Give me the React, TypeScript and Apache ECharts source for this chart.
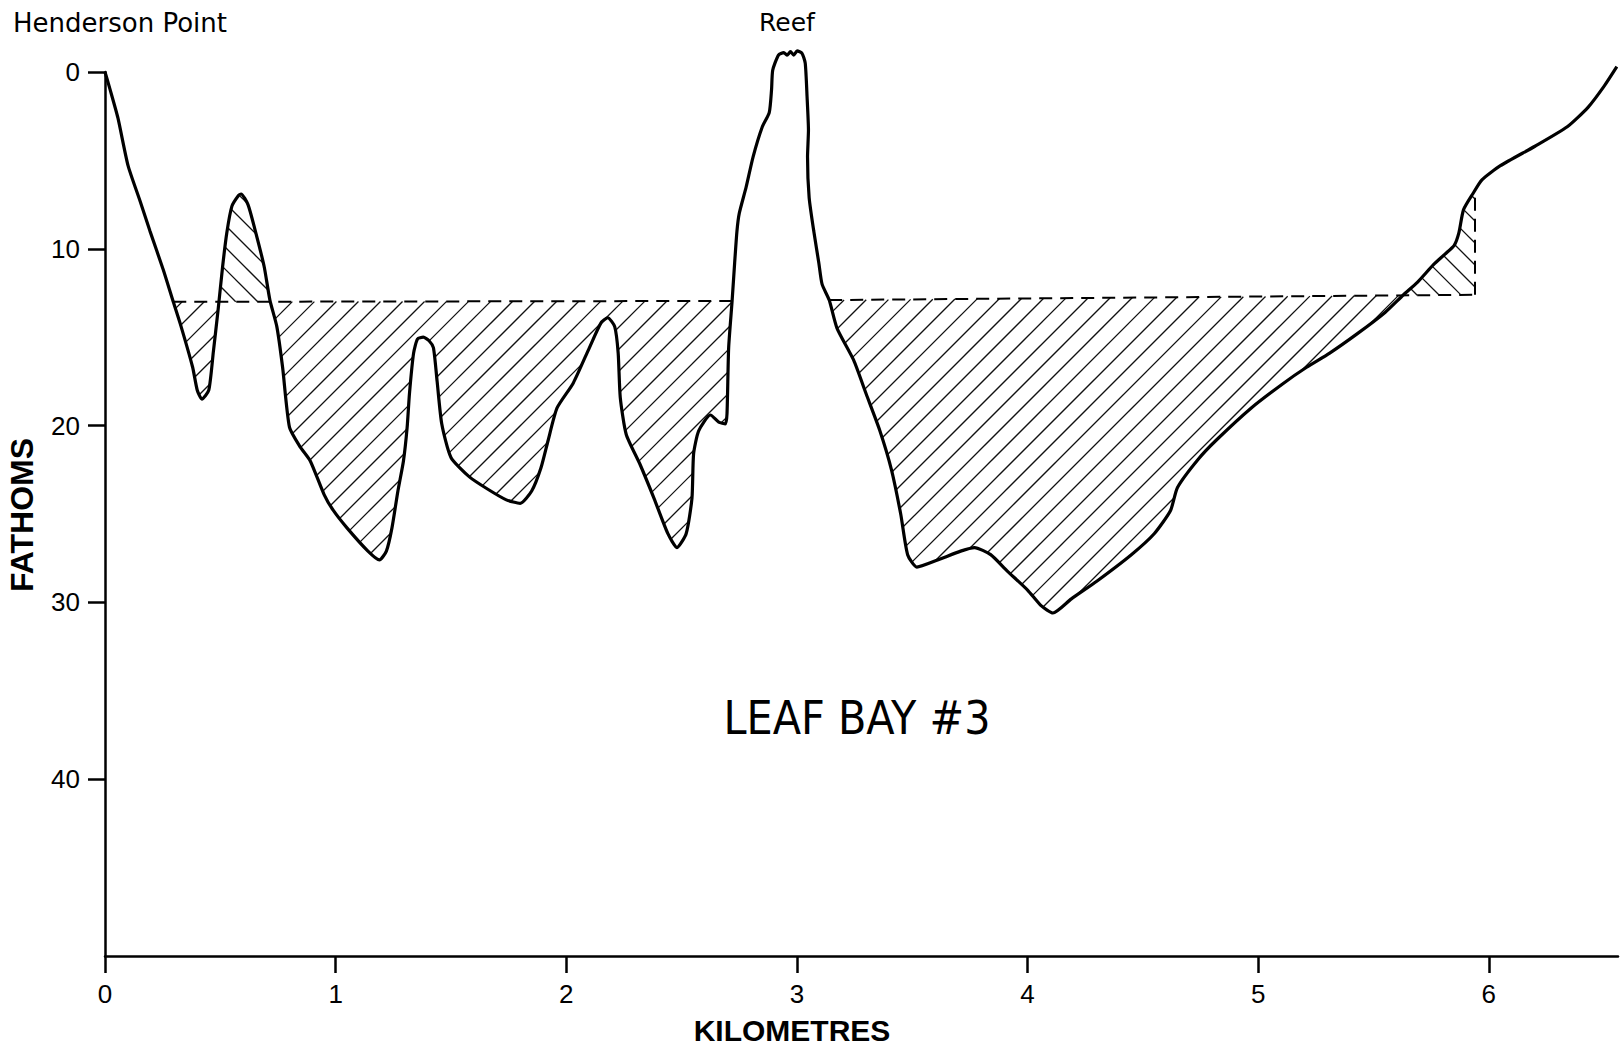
import React, { useEffect, useRef } from "react";
import * as echarts from "echarts";

// Sea-bed profile: [kilometres, fathoms]
const seabedProfile: [number, number][] = [
  [0.0, 0.0], [0.02, 0.9], [0.056, 2.6], [0.1, 5.3], [0.152, 7.3], [0.195, 9.0],
  [0.253, 11.2], [0.296, 13.0], [0.33, 14.4], [0.38, 16.7], [0.4, 18.0], [0.42, 18.5],
  [0.45, 18.0], [0.47, 15.8], [0.49, 13.5], [0.51, 11.0], [0.528, 9.1], [0.55, 7.6],
  [0.578, 7.0], [0.59, 6.9], [0.62, 7.5], [0.65, 8.9], [0.69, 11.0], [0.715, 12.9],
  [0.745, 14.4], [0.77, 16.7], [0.8, 20.1], [0.846, 21.2], [0.89, 22.0], [0.95, 23.9],
  [0.99, 24.8], [1.05, 25.8], [1.14, 27.1], [1.19, 27.6], [1.22, 27.1], [1.244, 25.8],
  [1.27, 23.7], [1.294, 22.0], [1.31, 20.1], [1.32, 18.2], [1.338, 15.9], [1.355, 15.1],
  [1.38, 15.0], [1.405, 15.2], [1.424, 15.6], [1.44, 17.5], [1.46, 19.9], [1.5, 21.8],
  [1.58, 22.9], [1.66, 23.6], [1.74, 24.2], [1.8, 24.4], [1.85, 23.7], [1.89, 22.4],
  [1.92, 20.9], [1.96, 19.0], [2.03, 17.6], [2.1, 15.6], [2.15, 14.2], [2.18, 13.9],
  [2.21, 14.4], [2.225, 15.9], [2.234, 18.4], [2.26, 20.5], [2.32, 22.2], [2.38, 24.1],
  [2.44, 26.1], [2.48, 26.9], [2.52, 26.1], [2.545, 24.1], [2.552, 21.6], [2.574, 20.3],
  [2.625, 19.4], [2.661, 19.8], [2.69, 19.9], [2.697, 19.3], [2.704, 15.6], [2.719, 12.95],
  [2.73, 10.8], [2.74, 9.0], [2.75, 8.0], [2.78, 6.5], [2.81, 4.8], [2.85, 3.1],
  [2.88, 2.3], [2.89, 1.0], [2.895, -0.1], [2.92, -0.96], [2.943, -1.1], [2.957, -0.95],
  [2.972, -1.15], [2.986, -0.96], [3.001, -1.19], [3.022, -1.06], [3.036, -0.5], [3.044, 1.4],
  [3.05, 3.3], [3.046, 4.8], [3.053, 7.1], [3.073, 9.0], [3.095, 10.8], [3.109, 12.0],
  [3.14, 12.9], [3.174, 14.5], [3.246, 16.3], [3.3, 18.2], [3.36, 20.3], [3.41, 22.5],
  [3.45, 25.0], [3.48, 27.3], [3.52, 28.0], [3.61, 27.6], [3.71, 27.1], [3.77, 26.9],
  [3.84, 27.3], [3.91, 28.2], [4.0, 29.3], [4.06, 30.2], [4.11, 30.6], [4.19, 29.8],
  [4.3, 28.8], [4.45, 27.3], [4.55, 26.1], [4.62, 24.8], [4.65, 23.5], [4.74, 21.9],
  [4.82, 20.8], [4.97, 19.0], [5.11, 17.6], [5.21, 16.7], [5.31, 15.9], [5.43, 14.8],
  [5.55, 13.6], [5.63, 12.6], [5.69, 11.9], [5.76, 10.9], [5.81, 10.3], [5.85, 9.8],
  [5.87, 9.1], [5.89, 7.8], [5.93, 6.9], [5.97, 6.1], [6.05, 5.3], [6.2, 4.2],
  [6.34, 3.1], [6.43, 2.0], [6.5, 0.8], [6.555, -0.3],
];

// Dashed dredge level lines: [kilometres, fathoms]
const levelLeft: [number, number][] = [[0.296, 13.0], [2.719, 12.95]];
const levelRight: [number, number][] = [[3.14, 12.9], [5.94, 12.6]];
const levelRightEnd: [number, number][] = [[5.94, 12.6], [5.94, 6.75]];

const xTicks = [0, 1, 2, 3, 4, 5, 6];
const yTicks = [0, 10, 20, 30, 40];

const labelFont = '"Liberation Sans", Arial, Helvetica, sans-serif';

type Piece = { poly: [number, number][]; sign: number };

function profileAt(x: number): number {
  for (let i = 0; i < seabedProfile.length - 1; i++) {
    const p = seabedProfile[i];
    const q = seabedProfile[i + 1];
    if (q[0] > p[0] && x >= p[0] && x <= q[0]) {
      const t = (x - p[0]) / (q[0] - p[0]);
      return p[1] + t * (q[1] - p[1]);
    }
  }
  return NaN;
}

function buildPieces(level: [number, number][]): Piece[] {
  const [a, la] = level[0];
  const [b, lb] = level[1];
  const lev = (x: number) => la + ((lb - la) * (x - a)) / (b - a);
  const pts: [number, number][] = [[a, profileAt(a)]];
  seabedProfile.forEach((p) => {
    if (p[0] > a && p[0] < b) pts.push([p[0], p[1]]);
  });
  pts.push([b, profileAt(b)]);
  const d = (p: [number, number]) => p[1] - lev(p[0]);
  const pieces: Piece[] = [];
  let cur: [number, number][] = [pts[0]];
  for (let i = 1; i < pts.length; i++) {
    const prev = pts[i - 1];
    const p = pts[i];
    const dp = d(prev);
    const dc = d(p);
    if (dp * dc < 0) {
      const t = dp / (dp - dc);
      const cross: [number, number] = [prev[0] + t * (p[0] - prev[0]), prev[1] + t * (p[1] - prev[1])];
      cur.push(cross);
      pieces.push({ poly: cur, sign: 0 });
      cur = [cross, p];
    } else {
      cur.push(p);
    }
  }
  pieces.push({ poly: cur, sign: 0 });
  return pieces
    .filter((pc) => pc.poly[pc.poly.length - 1][0] - pc.poly[0][0] > 0.004)
    .map((pc) => {
      const first = pc.poly[0];
      const last = pc.poly[pc.poly.length - 1];
      let s = 0;
      pc.poly.forEach((p) => (s += d(p)));
      const poly: [number, number][] = [...pc.poly, [last[0], lev(last[0])], [first[0], lev(first[0])]];
      return { poly, sign: s > 0 ? 1 : -1 };
    });
}

const hatchPieces: Piece[] = [...buildPieces(levelLeft), ...buildPieces(levelRight)];

function hatchSegments(poly: number[][], dir: number, spacing: number) {
  const f = (p: number[]) => (dir > 0 ? p[0] + p[1] : p[1] - p[0]);
  const fs = poly.map(f);
  const mn = Math.min(...fs);
  const mx = Math.max(...fs);
  const segs: number[][] = [];
  for (let c = Math.ceil(mn / spacing) * spacing; c <= mx; c += spacing) {
    const xs: number[][] = [];
    for (let i = 0; i < poly.length; i++) {
      const j = (i + 1) % poly.length;
      const fi = fs[i];
      const fj = fs[j];
      if ((fi <= c && fj > c) || (fj <= c && fi > c)) {
        const t = (c - fi) / (fj - fi);
        xs.push([poly[i][0] + t * (poly[j][0] - poly[i][0]), poly[i][1] + t * (poly[j][1] - poly[i][1])]);
      }
    }
    xs.sort((u, v) => u[0] - v[0]);
    for (let k = 0; k + 1 < xs.length; k += 2) {
      segs.push([xs[k][0], xs[k][1], xs[k + 1][0], xs[k + 1][1]]);
    }
  }
  return segs;
}

export default function App() {
  const ref = useRef<HTMLDivElement>(null);
  useEffect(() => {
    if (!ref.current) return;
    const chart = echarts.init(ref.current, null, { renderer: "svg" });
    const option: any = {
      animation: false,
      backgroundColor: "#ffffff",
      grid: { left: 105, right: 6, top: 72, bottom: 94, containLabel: false, outerBoundsMode: "none" },
      xAxis: {
        type: "value",
        min: 0,
        max: 6.56,
        interval: 1,
        position: "bottom",
        axisLine: { show: true, onZero: false, lineStyle: { color: "#000", width: 2.5 } },
        axisTick: { show: true, length: 17, customValues: xTicks, lineStyle: { color: "#000", width: 2.5 } },
        axisLabel: {
          customValues: xTicks,
          margin: 25,
          color: "#000",
          fontSize: 26,
          fontFamily: labelFont,
          formatter: (v: number) => (Number.isInteger(v) ? String(v) : ""),
        },
        splitLine: { show: false },
      },
      yAxis: {
        type: "value",
        inverse: true,
        min: 0,
        max: 50,
        interval: 10,
        axisLine: { show: true, onZero: false, lineStyle: { color: "#000", width: 2.5 } },
        axisTick: { show: true, length: 17, customValues: yTicks, lineStyle: { color: "#000", width: 2.5 } },
        axisLabel: {
          customValues: yTicks,
          margin: 25,
          color: "#000",
          fontSize: 26,
          fontFamily: labelFont,
          formatter: (v: number) => (v < 50 ? String(v) : ""),
        },
        splitLine: { show: false },
      },
      series: [
        {
          name: "hatch",
          type: "custom",
          z: 1,
          silent: true,
          clip: false,
          data: hatchPieces.map((p) => [p.poly[0][0], p.poly[0][1]]),
          renderItem: (params: any, api: any) => {
            const piece = hatchPieces[params.dataIndex];
            const poly = piece.poly.map((p) => api.coord(p));
            const segs = hatchSegments(poly, piece.sign, 22);
            return {
              type: "group",
              children: segs.map((s) => ({
                type: "line",
                shape: { x1: s[0], y1: s[1], x2: s[2], y2: s[3] },
                style: { stroke: "#111", lineWidth: 1.3 },
              })),
            };
          },
        },
        {
          name: "level left",
          type: "line",
          z: 2,
          data: levelLeft,
          symbol: "none",
          clip: false,
          lineStyle: { color: "#000", width: 2, type: [13, 8] },
        },
        {
          name: "level right",
          type: "line",
          z: 2,
          data: levelRight,
          symbol: "none",
          clip: false,
          lineStyle: { color: "#000", width: 2, type: [13, 8] },
        },
        {
          name: "level end",
          type: "line",
          z: 2,
          data: levelRightEnd,
          symbol: "none",
          clip: false,
          lineStyle: { color: "#000", width: 2, type: [13, 8] },
        },
        {
          name: "profile",
          type: "line",
          z: 3,
          data: seabedProfile,
          symbol: "none",
          smooth: 0.2,
          clip: false,
          lineStyle: { color: "#000", width: 3.2 },
        },
      ],
      graphic: [
        {
          type: "text",
          x: 13,
          y: 23,
          style: {
            text: "Henderson Point",
            fontSize: 26,
            fontFamily: '"DejaVu Sans", sans-serif',
            fill: "#000",
            textAlign: "left",
            textVerticalAlign: "middle",
            align: "left",
            verticalAlign: "middle",
          },
        },
        {
          type: "text",
          x: 787,
          y: 22,
          style: {
            text: "Reef",
            fontSize: 25,
            fontFamily: '"DejaVu Sans", sans-serif',
            fill: "#000",
            textAlign: "center",
            textVerticalAlign: "middle",
            align: "center",
            verticalAlign: "middle",
          },
        },
        {
          type: "text",
          x: 857,
          y: 718,
          style: {
            text: "LEAF BAY #3",
            fontSize: 46,
            fontFamily: '"DejaVu Sans Condensed", "Liberation Sans Narrow", "Liberation Sans", sans-serif',
            fill: "#000",
            textAlign: "center",
            textVerticalAlign: "middle",
            align: "center",
            verticalAlign: "middle",
          },
        },
        {
          type: "text",
          x: 792,
          y: 1030,
          style: {
            text: "KILOMETRES",
            fontSize: 30,
            fontWeight: "bold",
            fontFamily: labelFont,
            fill: "#000",
            textAlign: "center",
            textVerticalAlign: "middle",
            align: "center",
            verticalAlign: "middle",
          },
        },
        {
          type: "text",
          x: 22,
          y: 515,
          rotation: Math.PI / 2,
          style: {
            text: "FATHOMS",
            fontSize: 32,
            fontWeight: "bold",
            fontFamily: labelFont,
            fill: "#000",
            textAlign: "center",
            textVerticalAlign: "middle",
            align: "center",
            verticalAlign: "middle",
          },
        },
      ],
    };
    chart.setOption(option);
    return () => chart.dispose();
  }, []);
  return (
    <div
      ref={ref}
      style={{ position: "absolute", left: 0, top: 0, width: 1624, height: 1050, background: "#fff" }}
    />
  );
}
